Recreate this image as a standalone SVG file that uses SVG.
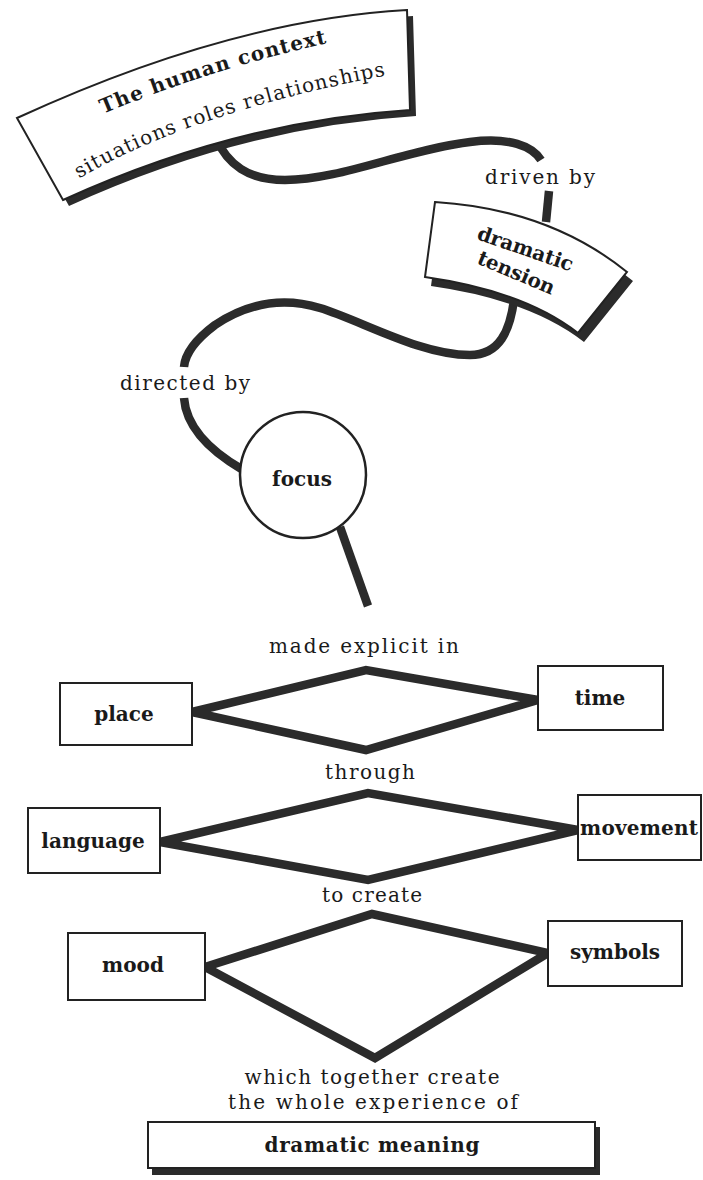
<svg xmlns="http://www.w3.org/2000/svg" width="703" height="1180" viewBox="0 0 703 1180">
<style>
.conn{fill:none;stroke:#2b2b2b;stroke-width:8.5;stroke-linejoin:miter;stroke-linecap:butt}
.box{fill:#fff;stroke:#222;stroke-width:2}
.shadow{fill:#2b2b2b}
.lbl{font-family:"DejaVu Serif","Liberation Serif",serif;font-size:20px;fill:#1a1a1a;text-anchor:middle}
.bold{font-weight:bold}
</style>
<defs>
<path id="p1" d="M 70,128 Q 215,64 362,36"/>
<path id="p2" d="M 50,197 Q 170,114 405,72"/>
</defs>
<rect width="703" height="1180" fill="#fff"/>
<g id="connectors">
<path class="conn" d="M215,137 C228,165 248,180 285,180 C340,180 405,150 470,142 C510,137 532,146 541,160"/>
<path class="conn" d="M549,191 L546,222"/>
<path class="conn" d="M514,300 C510,330 500,355 470,355 C420,355 360,320 320,308 C280,296 245,305 215,325 C195,340 185,355 184,367"/>
<path class="conn" d="M184,398 C186,425 205,448 243,470"/>
<path class="conn" d="M340,527 L368,606"/>
<path class="conn" d="M192,712 L366,670 L538,700 L366,750 Z"/>
<path class="conn" d="M160,842 L368,793 L578,830 L368,880 Z"/>
<path class="conn" d="M205,967 L372,914 L548,953 L375,1058 Z"/>
<text class="lbl" x="540" y="184" textLength="110">driven by</text>
<text class="lbl" x="185" y="390" textLength="130">directed by</text>
<text class="lbl" x="364" y="653" textLength="190">made explicit in</text>
<text class="lbl" x="370" y="779" textLength="90">through</text>
<text class="lbl" x="372" y="902" textLength="100">to create</text>
<text class="lbl" x="372" y="1084" textLength="255">which together create</text>
<text class="lbl" x="373" y="1109" textLength="290">the whole experience of</text>
</g>
<g id="human-context">
<path class="shadow" transform="translate(6,6)" d="M17,118 Q230,20 407,10 L410,110 Q236,121 63,200 Z"/>
<path class="box" d="M17,118 Q230,20 407,10 L410,110 Q236,121 63,200 Z"/>
<text class="lbl bold"><textPath href="#p1" startOffset="50%" textLength="235">The human context</textPath></text>
<text class="lbl"><textPath href="#p2" startOffset="52%" textLength="325">situations roles relationships</textPath></text>
</g>
<g id="dramatic-tension">
<path class="shadow" transform="translate(6,9)" d="M435,202 Q549,209 627,272 L578,333 Q524,291 425,277 Z"/>
<path class="box" d="M435,202 Q549,209 627,272 L578,333 Q524,291 425,277 Z"/>
<text class="lbl bold" style="text-anchor:start" x="476" y="239" transform="rotate(19 476 239)" textLength="100">dramatic</text>
<text class="lbl bold" style="text-anchor:start" x="476" y="263" transform="rotate(23 476 263)" textLength="82">tension</text>
</g>
<g id="focus">
<circle cx="303" cy="475" r="63" fill="#fff" stroke="#222" stroke-width="2.5"/>
<text class="lbl bold" x="302" y="486">focus</text>
</g>
<g id="place"><rect class="box" x="60" y="683" width="132" height="62"/><text class="lbl bold" x="124" y="721">place</text></g>
<g id="time"><rect class="box" x="538" y="666" width="125" height="64"/><text class="lbl bold" x="600" y="705">time</text></g>
<g id="language"><rect class="box" x="28" y="808" width="132" height="65"/><text class="lbl bold" x="93" y="848">language</text></g>
<g id="movement"><rect class="box" x="578" y="795" width="123" height="65"/><text class="lbl bold" x="639" y="835" textLength="118">movement</text></g>
<g id="mood"><rect class="box" x="68" y="933" width="137" height="67"/><text class="lbl bold" x="133" y="972">mood</text></g>
<g id="symbols"><rect class="box" x="548" y="921" width="134" height="65"/><text class="lbl bold" x="615" y="959">symbols</text></g>
<g id="dramatic-meaning">
<rect class="shadow" x="152" y="1127" width="448" height="48"/>
<rect class="box" x="148" y="1122" width="447" height="46"/>
<text class="lbl bold" x="372" y="1152" textLength="215">dramatic meaning</text>
</g>
</svg>
